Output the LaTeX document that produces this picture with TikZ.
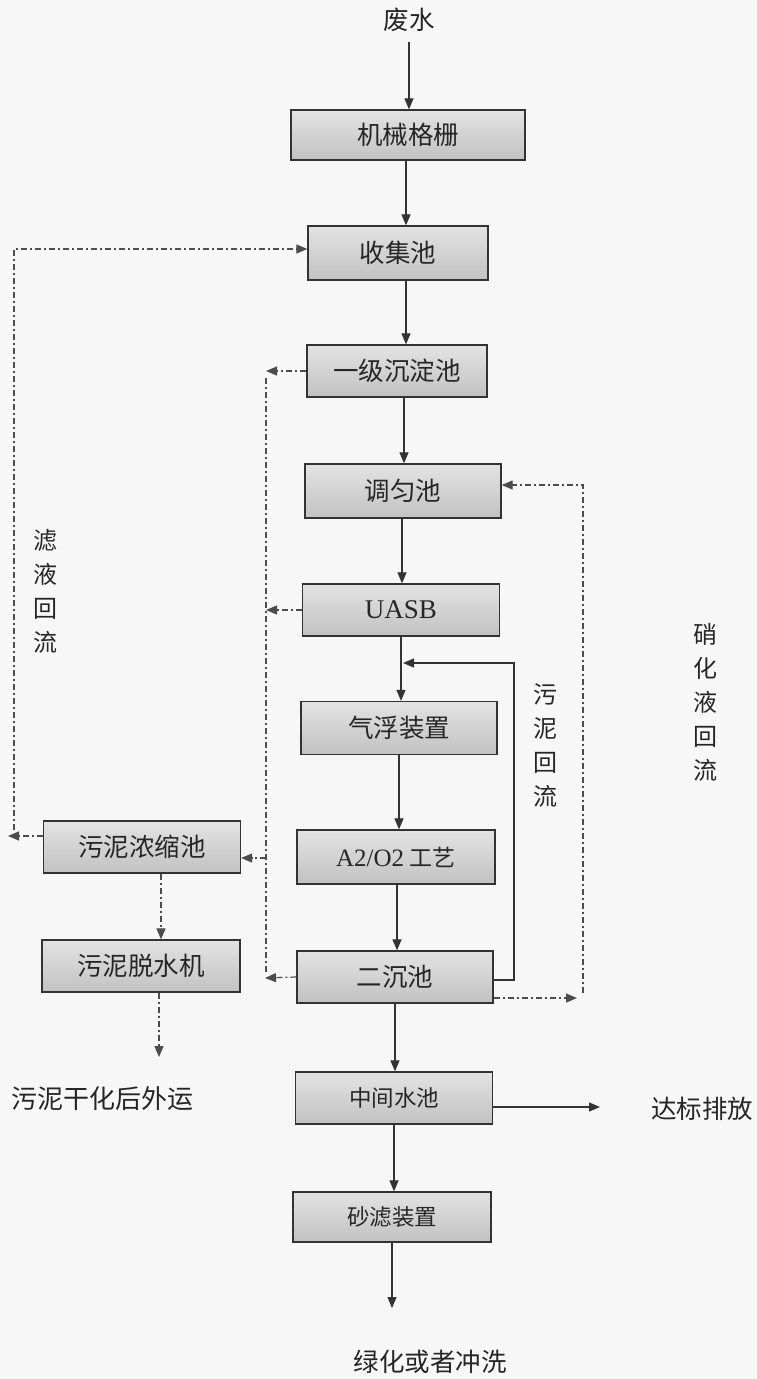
\documentclass[tikz,border=0pt]{standalone}
\usepackage{fontspec}
\newfontfamily\cjk{Noto Sans CJK SC}
\newfontfamily\lat{Liberation Serif}
\usetikzlibrary{arrows.meta}
\tikzset{
  proc/.style={draw=black!80, line width=1.3pt, top color=gray!22, middle color=gray!4, bottom color=gray!48,
    inner sep=0pt, font=\cjk\fontsize{25.5}{25.5}\selectfont, text=black!85},
  smallproc/.style={proc, font=\cjk\fontsize{22.5}{22.5}\selectfont},
  flow/.style={draw=black!80, line width=1.2pt, -{Triangle[length=11pt,width=9pt]}},
  ret/.style={draw=black!70, line width=1.2pt, dash pattern=on 6pt off 3pt on 2pt off 3pt},
  reta/.style={ret, -{Triangle[length=11pt,width=9pt]}},
  lbl/.style={font=\cjk\fontsize{25.5}{25.5}\selectfont, text=black!85, inner sep=0pt},
  vlbl/.style={lbl, align=center, font=\cjk\fontsize{24}{34}\selectfont}
}
\begin{document}
\begin{tikzpicture}[x=1pt, y=-1pt]
\path[fill=black!3] (0,0) rectangle (757,1379);
\useasboundingbox (0,0) rectangle (757,1379);

% main column
\node[lbl] (n0) at (409,20) {废水};
\node[proc, minimum width=234pt, minimum height=50pt] (n1) at (408,135) {机械格栅};
\node[proc, minimum width=180pt, minimum height=54pt] (n2) at (398,253) {收集池};
\node[proc, minimum width=180pt, minimum height=52pt] (n3) at (397,371) {一级沉淀池};
\node[proc, minimum width=196pt, minimum height=54pt] (n4) at (403,491) {调匀池};
\node[proc, minimum width=197pt, minimum height=52pt, font=\lat\fontsize{27}{27}\selectfont] (n5) at (401,610) {UASB};
\node[proc, minimum width=196pt, minimum height=53pt] (n6) at (399,728) {气浮装置};
\node[proc, minimum width=198pt, minimum height=54pt] (n7) at (396,857) {{\lat\fontsize{25}{25}\selectfont A2/O2} {\fontsize{23}{23}\selectfont 工艺}};
\node[proc, minimum width=196pt, minimum height=52pt] (n8) at (395,977) {二沉池};
\node[smallproc, minimum width=197pt, minimum height=52pt] (n9) at (394,1098) {中间水池};
\node[smallproc, minimum width=198pt, minimum height=50pt] (n10) at (392,1217) {砂滤装置};
% sludge line
\node[proc, minimum width=197pt, minimum height=52pt] (n11) at (142,847) {污泥浓缩池};
\node[proc, minimum width=198pt, minimum height=52pt] (n12) at (141,966) {污泥脱水机};

% labels
\node[lbl] (out1) at (430,1362) {绿化或者冲洗};
\node[lbl] (out2) at (702,1109) {达标排放};
\node[lbl, font=\cjk\fontsize{26}{26}\selectfont] (out3) at (103,1099) {污泥干化后外运};
\node[vlbl] (v1) at (45,591) {滤\\液\\回\\流};
\node[vlbl] (v2) at (705,702) {硝\\化\\液\\回\\流};
\node[vlbl] (v3) at (545,745) {污\\泥\\回\\流};

% main flow
\coordinate (w0) at (409,42);
\draw[flow] (w0) -- (n1.north -| w0);
\draw[flow] (n1.south -| 406,0) -- (n2.north -| 406,0);
\draw[flow] (n2.south -| 406,0) -- (n3.north -| 406,0);
\draw[flow] (n3.south -| 404,0) -- (n4.north -| 404,0);
\draw[flow] (n4.south -| 402,0) -- (n5.north -| 402,0);
\draw[flow] (n5.south -| 401,0) -- (n6.north -| 401,0);
\draw[flow] (n6.south -| 399,0) -- (n7.north -| 399,0);
\draw[flow] (n7.south -| 397,0) -- (n8.north -| 397,0);
\draw[flow] (n8.south -| 395,0) -- (n9.north -| 395,0);
\draw[flow] (n9.south -| 394,0) -- (n10.north -| 394,0);
\coordinate (e1) at (392,1308);
\draw[flow] (n10.south -| e1) -- (e1);
\coordinate (e2) at (600,1107);
\draw[flow] (n9.east |- e2) -- (e2);

% sludge return (solid)
\coordinate (s1) at (514,980);
\coordinate (s2) at (514,663);
\coordinate (s3) at (403,663);
\draw[flow] (n8.east |- s1) -- (s1) -- (s2) -- (s3);

% filtrate return (outer left)
\coordinate (f0) at (8,836);
\coordinate (f1) at (14,830);
\coordinate (f2) at (14,249);
\draw[reta] (n11.west |- f0) -- (f0);
\draw[reta] (f1) -- (f2) -- (n2.west |- f2);

% inner left sludge collection
\coordinate (g1) at (266,371);
\coordinate (g2) at (266,378);
\coordinate (g3) at (266,972);
\coordinate (g4) at (266,610);
\coordinate (g5) at (265,978);
\coordinate (g6) at (266,858);
\draw[reta] (n3.west) -- (g1);
\draw[ret] (g2) -- (g3);
\draw[reta] (n5.west) -- (g4);
\draw[reta] (n8.west) -- (g5);
\draw[reta] (g6) -- (n11.east |- g6);

% nitrified liquid return (right)
\coordinate (r0) at (577,998);
\coordinate (r1) at (583,993);
\coordinate (r2) at (583,485);
\draw[reta] (n8.east |- r0) -- (r0);
\draw[reta] (r1) -- (r2) -- (n4.east |- r2);

% sludge treatment
\draw[reta] (n11.south -| 161,0) -- (n12.north -| 161,0);
\coordinate (d1) at (159,1057);
\draw[reta] (n12.south -| d1) -- (d1);
\end{tikzpicture}
\end{document}
